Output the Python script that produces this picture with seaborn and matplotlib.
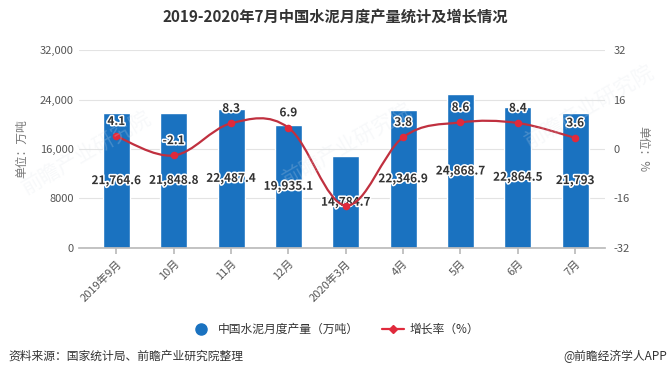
import matplotlib
matplotlib.use("Agg")
import matplotlib.pyplot as plt
import matplotlib.patheffects as pe
from matplotlib.path import Path
from matplotlib.patches import PathPatch
from matplotlib.lines import Line2D
import numpy as np
import pandas as pd
import seaborn as sns

months = ["2019年9月", "10月", "11月", "12月", "2020年3月", "4月", "5月", "6月", "7月"]
output = [21764.6, 21848.8, 22487.4, 19935.1, 14784.7, 22346.9, 24868.7, 22864.5, 21793]
output_labels = ["21,764.6", "21,848.8", "22,487.4", "19,935.1", "14,784.7",
                 "22,346.9", "24,868.7", "22,864.5", "21,793"]
growth = [4.1, -2.1, 8.3, 6.9, -18.3, 3.8, 8.6, 8.4, 3.6]
growth_labels = ["4.1", "-2.1", "8.3", "6.9", "", "3.8", "8.6", "8.4", "3.6"]

BAR = "#1a72c0"
LINE = "#c0303f"
DOT = "#e02a3c"
CJK = ["Noto Sans CJK SC", "DejaVu Sans"]

sns.set_theme(style="white")
plt.rcParams["font.family"] = CJK
plt.rcParams["axes.unicode_minus"] = False

fig = plt.figure(figsize=(6.7, 3.82), dpi=100)
ax = fig.add_axes([0.118, 0.351, 0.785, 0.518])

df = pd.DataFrame({"month": months, "output": output})
sns.barplot(data=df, x="month", y="output", color=BAR, saturation=1, width=0.47, ax=ax, zorder=2)

ax.set_ylim(0, 32000)
ax.set_yticks([0, 8000, 16000, 24000, 32000])
ax.set_yticklabels(["0", "8000", "16,000", "24,000", "32,000"])
ax.set_xlim(-0.65, 8.52)
ax.grid(axis="y", color="#e3e3e3", linewidth=0.8, zorder=0)
for side in ["top", "right", "left"]:
    ax.spines[side].set_visible(False)
ax.spines["bottom"].set_color("#bbbbbb")
ax.tick_params(axis="y", length=0, labelsize=8, colors="#555555", pad=4)
ax.tick_params(axis="x", length=4, color="#bbbbbb", labelsize=8, colors="#555555", bottom=True)
ax.set_xticks(range(len(months)))
ax.set_xticklabels(months, rotation=45, ha="right", rotation_mode="anchor")
ax.set_xlabel("")
ax.set_ylabel("单位：万吨", fontsize=8.5, color="#777777", labelpad=8)

stroke = [pe.withStroke(linewidth=2.2, foreground="white")]
for i, (v, lab) in enumerate(zip(output, output_labels)):
    ax.text(i, v / 2, lab, ha="center", va="center", fontsize=8.5, fontweight="bold",
            color="#333333", path_effects=stroke, zorder=5)

# growth rate on right axis
ax2 = ax.twinx()
ax2.set_ylim(-32, 32)
ax2.set_yticks([-32, -16, 0, 16, 32])
ax2.set_yticklabels(["-32", "-16", "0", "16", "32"])
for side in ["top", "right", "left", "bottom"]:
    ax2.spines[side].set_visible(False)
ax2.tick_params(axis="y", length=0, labelsize=8, colors="#555555", pad=6)
ax2.set_ylabel("单位：%", fontsize=8.5, color="#777777", rotation=-90, labelpad=14)

# smooth curve through the points (cubic Bezier segments)
xs = np.arange(len(growth), dtype=float)
ys = np.array(growth, dtype=float)
verts = [(xs[0], ys[0])]
codes = [Path.MOVETO]
t = 0.35
for i in range(len(xs) - 1):
    p0 = np.array([xs[max(i - 1, 0)], ys[max(i - 1, 0)]])
    p1 = np.array([xs[i], ys[i]])
    p2 = np.array([xs[i + 1], ys[i + 1]])
    p3 = np.array([xs[min(i + 2, len(xs) - 1)], ys[min(i + 2, len(xs) - 1)]])
    c1 = p1 + (p2 - p0) * t / 2
    c2 = p2 - (p3 - p1) * t / 2
    verts += [tuple(c1), tuple(c2), tuple(p2)]
    codes += [Path.CURVE4] * 3
ax2.add_patch(PathPatch(Path(verts, codes), facecolor="none", edgecolor=LINE, linewidth=1.6, zorder=3))

gdf = pd.DataFrame({"x": xs, "growth": growth})
sns.scatterplot(data=gdf, x="x", y="growth", color=DOT, s=30, edgecolor=DOT, linewidth=0, ax=ax2, zorder=4)
ax2.set_xlabel("")
for i, (v, lab) in enumerate(zip(growth, growth_labels)):
    if lab:
        ax2.annotate(lab, (i, v), xytext=(0, 6), textcoords="offset points", ha="center", va="bottom",
                     fontsize=8.5, fontweight="bold", color="#333333", path_effects=stroke, zorder=6)

# watermark
for (wx, wy) in [(0.13, 0.6), (0.52, 0.62), (0.88, 0.72)]:
    fig.text(wx, wy, "前瞻产业研究院", fontsize=15, color="#dde3ea", alpha=0.22, rotation=30,
             ha="center", va="center", zorder=0)

fig.text(0.5, 0.955, "2019-2020年7月中国水泥月度产量统计及增长情况", ha="center", va="center",
         fontsize=11, fontweight="bold", color="#333333")

handles = [
    Line2D([], [], marker="o", linestyle="none", markersize=8, color=BAR),
    Line2D([], [], marker="D", linestyle="-", markersize=4, color=DOT, linewidth=1.6),
]
fig.legend(handles, ["中国水泥月度产量（万吨）", "增长率（%）"], loc="center", bbox_to_anchor=(0.5, 0.137),
           ncol=2, frameon=False, fontsize=8.5, handlelength=1.8, columnspacing=2.0, handletextpad=0.5,
           labelcolor="#333333")

fig.text(0.012, 0.068, "资料来源：国家统计局、前瞻产业研究院整理", ha="left", va="center", fontsize=8.5, color="#333333")
fig.text(0.995, 0.068, "@前瞻经济学人APP", ha="right", va="center", fontsize=8.5, color="#333333")

fig.savefig("out.png", dpi=100)
